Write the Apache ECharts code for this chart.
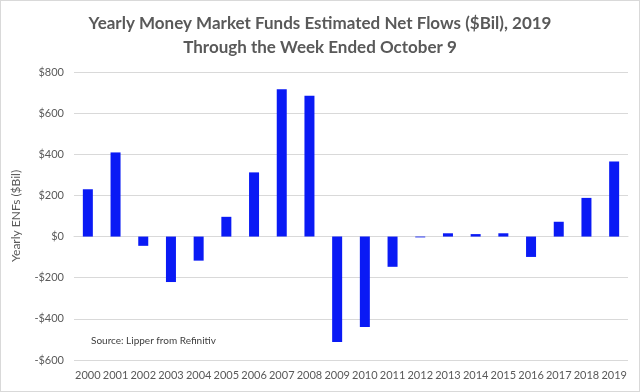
<!DOCTYPE html>
<html><head><meta charset="utf-8">
<script src="https://cdn.jsdelivr.net/npm/echarts@6/dist/echarts.min.js"></script>
<style>html,body{margin:0;padding:0;background:#fff}#c{width:640px;height:392px;box-sizing:border-box;border:1px solid #d9d9d9}</style>
</head><body><div id="c"></div>
<script>
const years = ['2000','2001','2002','2003','2004','2005','2006','2007','2008','2009','2010','2011','2012','2013','2014','2015','2016','2017','2018','2019'];
const flows = [230, 409, -45, -221, -117, 96, 312, 716, 685, -512, -440, -147, -4, 16, 12, 16, -99, 72, 188, 365];
const titleText = 'Yearly Money Market Funds Estimated Net Flows ($Bil), 2019\nThrough the Week Ended October 9';
const yName = 'Yearly ENFs ($Bil)';
const sourceText = 'Source: Lipper from Refinitiv';
const font = 'Lato, "Open Sans", sans-serif';
const chart = echarts.init(document.getElementById('c'));
chart.setOption({
  animation: false,
  title: {text: titleText, left: 'center', top: 6,
    textStyle: {fontFamily: font, fontSize: 17, fontWeight: 'bold', color: '#595959', lineHeight: 24}},
  graphic: [{type: 'text', left: 90, top: 335, style: {text: sourceText, fontFamily: font, fontSize: 10, fill: '#404040'}}],
  grid: {left: 73, right: 11, top: 71, bottom: 31},
  xAxis: {type: 'category', data: years,
    axisLine: {onZero: true, lineStyle: {color: '#d9d9d9'}}, axisTick: {show: false},
    axisLabel: {fontFamily: font, fontSize: 11, color: '#595959', interval: 0, margin: 10},
    position: 'bottom'},
  yAxis: {type: 'value', min: -600, max: 800, interval: 200,
    name: yName, nameLocation: 'middle', nameGap: 52,
    nameTextStyle: {fontFamily: font, fontSize: 12, color: '#595959'},
    axisLabel: {fontFamily: font, fontSize: 11, color: '#595959', margin: 10,
      formatter: v => (v < 0 ? '-$' : '$') + Math.abs(v)},
    splitLine: {lineStyle: {color: '#d9d9d9'}}},
  series: [{type: 'bar', data: flows, barWidth: 10, itemStyle: {color: '#0a1af5'}}]
});
</script></body></html>
